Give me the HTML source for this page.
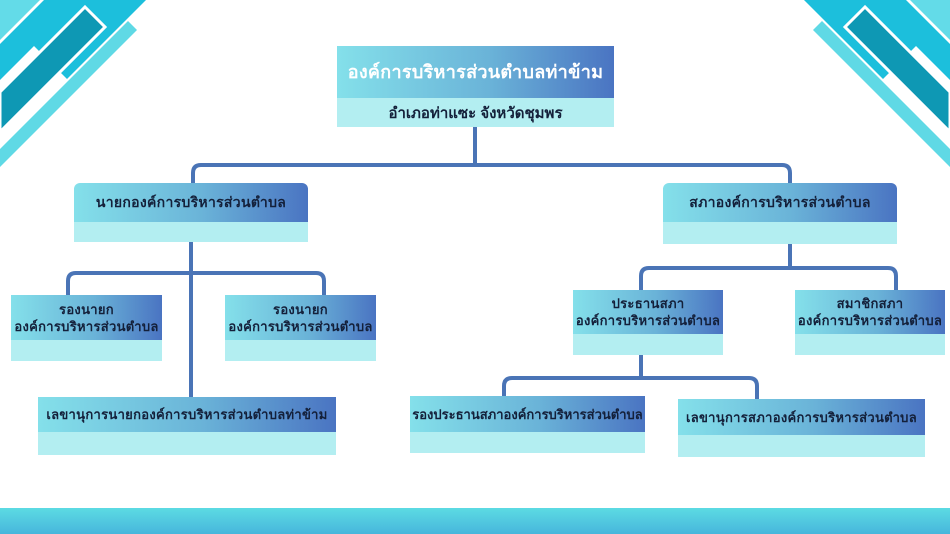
<!DOCTYPE html>
<html><head><meta charset="utf-8"><style>
body{margin:0;width:950px;height:534px;overflow:hidden;background:#fff;position:relative;font-family:"Liberation Sans","Noto Sans CJK SC",sans-serif;}
.b{position:absolute;}
.h{position:absolute;left:0;right:0;top:0;background:linear-gradient(90deg,#84e0ea,#6ab3d8 55%,#4a74c2);display:flex;align-items:center;justify-content:center;text-align:center;color:#14203a;font-weight:bold;font-size:13px;line-height:17px;letter-spacing:0.3px;white-space:nowrap}
.s{position:absolute;left:0;right:0;bottom:0;background:#b3eef1}
.r .h{border-radius:6px 6px 0 0}
svg{position:absolute;left:0;top:0}
</style></head><body>
<svg width="950" height="534">
<defs><linearGradient id="bt" x1="0" y1="0" x2="0" y2="1"><stop offset="0" stop-color="#5cdbe3"/><stop offset="1" stop-color="#47b6dc"/></linearGradient>
<g id="c">
<polygon points="0,0 40,0 0,40" fill="#63dbe8"/>
<polygon points="44,0 80,0 0,80 0,44" fill="#1cbfdc"/>
<polygon points="78,0 146,0 67,79 33,45" fill="#1cbfdc"/>
<polygon points="85,7 105,27 0,132 0,92" fill="#0e98b4" stroke="#fff" stroke-width="3"/>
<polygon points="128,21 137,30 0,167 0,149" fill="#5fd9e5"/>
</g></defs>
<use href="#c"/>
<g transform="translate(950,0) scale(-1,1)"><use href="#c"/></g>
<rect x="0" y="508" width="950" height="26" fill="url(#bt)"/>
<g fill="none" stroke="#4a74b6" stroke-width="4">
<line x1="475" y1="127" x2="475" y2="165"/>
<path d="M193,185 V173 Q193,165 201,165 H782 Q790,165 790,173 V185"/>
<line x1="191" y1="242" x2="191" y2="397"/>
<path d="M68,297 V281 Q68,273 76,273 H316 Q324,273 324,281 V297"/>
<line x1="790" y1="244" x2="790" y2="268"/>
<path d="M641,292 V276 Q641,268 649,268 H888 Q896,268 896,276 V292"/>
<line x1="641" y1="355" x2="641" y2="378"/>
<path d="M504,398 V386 Q504,378 512,378 H749 Q757,378 757,386 V401"/>
</g>
</svg>
<div class="b" style="left:337px;top:46px;width:277px;height:81px"><div class="h" style="height:52px;color:#fff;font-size:18px">องค์การบริหารส่วนตำบลท่าข้าม</div><div class="s" style="height:29px;display:flex;align-items:center;justify-content:center;font-weight:bold;font-size:15px;color:#14203a">อำเภอท่าแซะ จังหวัดชุมพร</div></div>
<div class="b r" style="left:74px;top:183px;width:234px;height:59px"><div class="h" style="height:39px;font-size:14px">นายกองค์การบริหารส่วนตำบล</div><div class="s" style="height:20px"></div></div>
<div class="b r" style="left:663px;top:183px;width:234px;height:61px"><div class="h" style="height:39px;font-size:14px">สภาองค์การบริหารส่วนตำบล</div><div class="s" style="height:22px"></div></div>
<div class="b" style="left:11px;top:295px;width:151px;height:66px"><div class="h" style="height:45px">รองนายก<br>องค์การบริหารส่วนตำบล</div><div class="s" style="height:21px"></div></div>
<div class="b" style="left:225px;top:295px;width:151px;height:66px"><div class="h" style="height:45px">รองนายก<br>องค์การบริหารส่วนตำบล</div><div class="s" style="height:21px"></div></div>
<div class="b" style="left:38px;top:397px;width:298px;height:58px"><div class="h" style="height:35px">เลขานุการนายกองค์การบริหารส่วนตำบลท่าข้าม</div><div class="s" style="height:23px"></div></div>
<div class="b" style="left:573px;top:290px;width:150px;height:65px"><div class="h" style="height:44px">ประธานสภา<br>องค์การบริหารส่วนตำบล</div><div class="s" style="height:21px"></div></div>
<div class="b" style="left:795px;top:290px;width:150px;height:65px"><div class="h" style="height:44px">สมาชิกสภา<br>องค์การบริหารส่วนตำบล</div><div class="s" style="height:21px"></div></div>
<div class="b" style="left:410px;top:396px;width:235px;height:57px"><div class="h" style="height:36px;letter-spacing:0">รองประธานสภาองค์การบริหารส่วนตำบล</div><div class="s" style="height:21px"></div></div>
<div class="b" style="left:678px;top:399px;width:247px;height:58px"><div class="h" style="height:36px">เลขานุการสภาองค์การบริหารส่วนตำบล</div><div class="s" style="height:22px"></div></div>
</body></html>
